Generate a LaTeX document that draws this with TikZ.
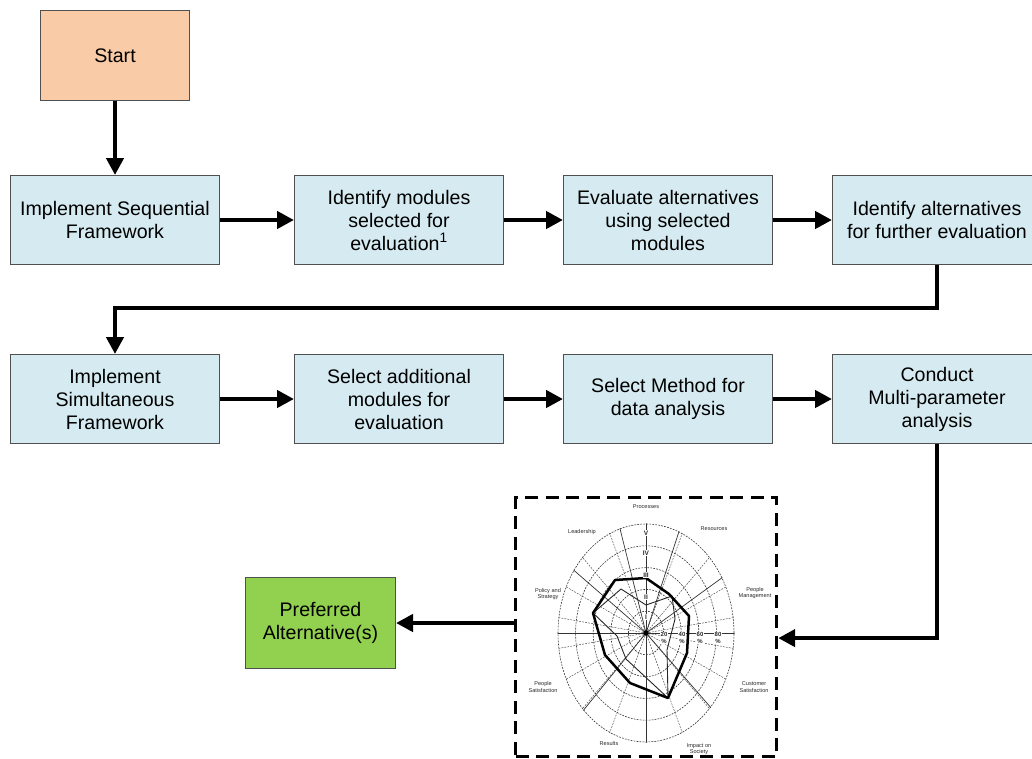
\documentclass[tikz,border=0pt]{standalone}
\usepackage{fontspec}
\setmainfont{Liberation Sans}
\usetikzlibrary{arrows.meta,calc}
\definecolor{boxblue}{HTML}{D6EBF1}
\definecolor{startfill}{HTML}{F9CBA6}
\definecolor{greenfill}{HTML}{92D050}
\definecolor{boxedge}{HTML}{505050}
\definecolor{charttext}{HTML}{2A2A2A}
\begin{document}
\begin{tikzpicture}[x=1pt,y=-1pt,
  stepbox/.style={draw=boxedge, line width=1pt, fill=boxblue,
    minimum width=209pt, minimum height=89pt, align=center,
    inner sep=0pt, anchor=north west,
    font=\fontsize{19.6}{23}\selectfont},
  flow/.style={line width=4.6pt, -{Triangle[length=17pt,width=17pt]}},
  chartlabel/.style={font=\fontsize{5.6}{6.2}\selectfont, text=charttext,
    align=center, inner sep=0pt},
  ring/.style={dash pattern=on 1.8pt off 1.2pt, line width=0.6pt, black!80},
  spoke/.style={line width=0.7pt, black!80},
  dspoke/.style={dash pattern=on 1.8pt off 1.2pt, line width=0.5pt, black!70}]
\useasboundingbox (0,0) rectangle (1032,758);

% process boxes
\node[stepbox, fill=startfill, minimum width=149pt, minimum height=90pt] (start) at (40,10) {Start};
\node[stepbox] (b1) at (10,175) {Implement Sequential\\Framework};
\node[stepbox] (b2) at (294,175) {Identify modules\\selected for\\evaluation\textsuperscript{1}};
\node[stepbox] (b3) at (563,175) {Evaluate alternatives\\using selected\\modules};
\node[stepbox] (b4) at (832,175) {Identify alternatives\\for further evaluation};
\node[stepbox] (b5) at (10,354) {Implement\\Simultaneous\\Framework};
\node[stepbox] (b6) at (294,354) {Select additional\\modules for\\evaluation};
\node[stepbox] (b7) at (563,354) {Select Method for\\data analysis};
\node[stepbox] (b8) at (832,354) {Conduct\\Multi-parameter\\analysis};
\node[stepbox, fill=greenfill, minimum width=150pt, minimum height=91pt] (green) at (245,577) {Preferred\\Alternative(s)};

% dashed frame around the radar chart
\node[draw, line width=3.2pt, dash pattern=on 13pt off 7.5pt, anchor=north west,
  minimum width=261pt, minimum height=259pt, inner sep=0pt] (chart) at (514,496) {};
\coordinate (chartin) at ($(chart.east)+(0,11)$);

% connectors
\draw[flow] (start.south) -- (b1.north);
\draw[flow] (b1.east) -- (b2.west);
\draw[flow] (b2.east) -- (b3.west);
\draw[flow] (b3.east) -- (b4.west);
\draw[flow] (b4.south) -- ++(0,43) -| (b5.north);
\draw[flow] (b5.east) -- (b6.west);
\draw[flow] (b6.east) -- (b7.west);
\draw[flow] (b7.east) -- (b8.west);
\draw[flow] (b8.south) |- (chartin);
\draw[flow] (chart.west |- green.east) -- (green.east);

% radar chart
\begin{scope}[shift={(646,633)}]
  \begin{scope}
    \clip (0,0) ellipse [x radius=88.5pt, y radius=109.5pt];
    \foreach \a in {10,30,...,350}
      \draw[dspoke] (0,0) -- (\a:200pt);
    \foreach \a in {0,36,72,90,104,139,180,231,270,311}
      \draw[spoke] (0,0) -- (\a:200pt);
  \end{scope}
  \foreach \k in {1,...,5}
    \draw[ring] (0,0) ellipse [x radius={17.6pt*\k}, y radius={21.8pt*\k}];
  % scores
  \draw[line width=0.9pt, black!85, line join=round]
    (-53,-20) -- (-25,-44) -- (0,-28) -- (26,-37) -- (29,-14) -- (21,17)
    -- (22,65) -- (-20,26) -- (-29,3) -- cycle;
  \draw[line width=2.5pt, black, line join=round]
    (-31,-53) -- (0,-55) -- (23,-39) -- (43,-17) -- (41,20) -- (22,65)
    -- (-16,50) -- (-41,22) -- (-53,-20) -- cycle;
  \fill (0,0) circle [radius=2.8pt];
  % level marks
  \foreach \y/\t in {-100/V,-80/IV,-58/III,-36/II,-16/I}
    \node[chartlabel, font=\fontsize{6.5}{6.5}\selectfont\bfseries, fill=white, inner sep=0.4pt] at (0,\y) {\t};
  \foreach \x/\p in {18/20,36/40,54/60,72/80}
    \node[chartlabel, font=\fontsize{6}{7.2}\selectfont\bfseries, fill=white, inner sep=0.3pt] at (\x,5) {\p\\\%};
\end{scope}

% criteria names
\node[chartlabel] (l1) at (646,507) {Processes};
\node[chartlabel] (l2) at (714,529) {Resources};
\node[chartlabel] (l3) at (755,593) {People\\Management};
\node[chartlabel] (l4) at (754,687) {Customer\\Satisfaction};
\node[chartlabel] (l5) at (699,749) {Impact on\\Society};
\node[chartlabel] (l6) at (609,743) {Results};
\node[chartlabel] (l7) at (543,687) {People\\Satisfaction};
\node[chartlabel] (l8) at (548,594) {Policy and\\Strategy};
\node[chartlabel] (l9) at (582,532) {Leadership};
\end{tikzpicture}
\end{document}
